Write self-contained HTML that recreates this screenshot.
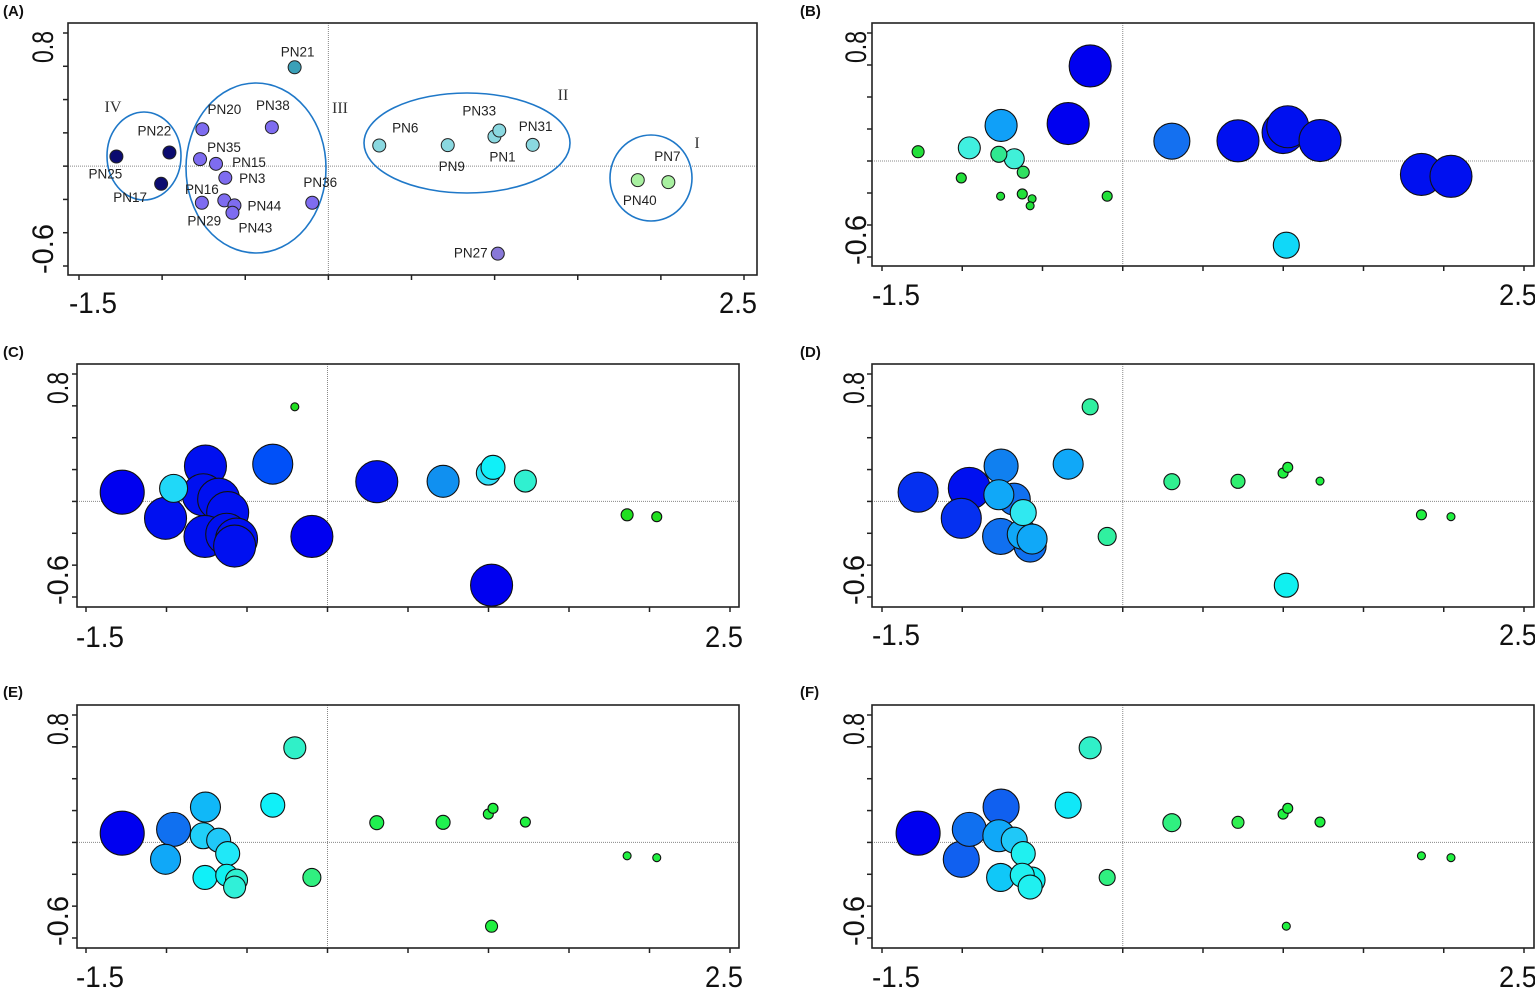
<!DOCTYPE html>
<html><head><meta charset="utf-8"><style>
html,body{margin:0;padding:0;background:#fff;}
svg{display:block;font-family:"Liberation Sans",Arial,sans-serif;}
</style></head><body>
<svg id="fig" width="1535" height="992" viewBox="0 0 1535 992"></svg>
<script>
const sampleNames=["PN25","PN22","PN17","PN20","PN38","PN35","PN15","PN3","PN16","PN29","PN44","PN43","PN36","PN21","PN6","PN9","PN1","PN33","PN31","PN40","PN7","PN27"];
const pc1=[-1.275,-0.956,-1.006,-0.758,-0.340,-0.772,-0.676,-0.620,-0.761,-0.626,-0.565,-0.577,-0.097,-0.203,0.306,0.718,0.999,1.028,1.229,1.861,2.045,1.019];
const pc2=[0.058,0.082,-0.106,0.222,0.234,0.042,0.014,-0.070,-0.220,-0.206,-0.236,-0.280,-0.220,0.594,0.124,0.126,0.178,0.214,0.128,-0.084,-0.096,-0.526];
const groupA=["IV","IV","IV","III","III","III","III","III","III","III","III","III","III","x","II","II","II","II","II","I","I","y"];
const sizeB=[6,11,5,16,21,8,10,6,4,5,4,4,5,21,18,21,21,21,21,21,21,13];
const sizeC=[22,14,21,21,20,21,21,21,21,21,21,21,21,4,21,16,12,12,11,6,5,21];
const sizeD=[20,21,20,17,15,15,16,13,18,15,15,16,9,8,8,7,5,5,4,5,4,12];
const sizeE=[22,17,15,15,12,13,12,12,12,11,11,11,9,11,7,7,5,5,5,4,4,6];
const sizeF=[22,17,18,18,13,16,13,12,14,12,13,12,8,11,9,6,5,5,5,4,4,4];
const colB=["#22e03a","#40f0e0","#22e03a","#10a0f8","#0000f0","#30e890","#40f0d8","#30e060","#22e03a","#22e03a","#22e03a","#22e03a","#22e03a","#0000f0","#1470f0","#0010f0","#0010f0","#0010f0","#0010f0","#0010f0","#0010f0","#10d8f8"];
const colC=["#0000f0","#20d8f8","#0010f0","#0010f0","#0050f8","#0010f0","#0010f0","#0010f0","#0010f0","#0010f0","#0010f0","#0010f0","#0000f0","#20e020","#0010f0","#1090f0","#30e0f8","#10f0f8","#30f0d0","#20e020","#20e020","#0000f0"];
const colD=["#0530f0","#0010f0","#0530f0","#1080f0","#10a8f8","#10a8f8","#1070f0","#30e8f0","#1070f0","#10a8f8","#10a8f8","#1070f0","#30f0a0","#30f0a0","#30f090","#30f070","#20f040","#20f040","#20f040","#20f040","#20f040","#10f0f0"];
const colE=["#0000f0","#1070f0","#10a8f8","#10b8f8","#10f0f8","#20d0f8","#20c8f8","#20e8f8","#10f0f8","#10f0f0","#30f0d0","#30f0d8","#30f080","#30f0c8","#20f050","#20f050","#20f040","#20f040","#20f040","#20f040","#20f040","#20f040"];
const colF=["#0000f0","#1070f0","#1060f0","#1060f0","#10e8f8","#10a8f8","#20c8f8","#20f0f0","#10c8f8","#20f0f0","#10f0f0","#20f0f0","#30f080","#30f0c8","#30f080","#30f050","#20f040","#20f040","#20f040","#20f040","#20f040","#20f040"];
const colA={"IV":"#0b0b70","III":"#7e6cf0","II":"#8ad8e0","I":"#a8f0a0","x":"#3aa0b8","y":"#8878d8"};
const xTicks=[-1.5,-1,-0.5,0,0.5,1,1.5,2,2.5];
const yTicks=[0.8,0.6,0.4,0.2,0,-0.2,-0.4,-0.6];
// label offsets (px) from each point in panel A
const labelDx=[-11,-15,-31,22,1,24,33,27,0,-20,30,23,8,3,26,4,8,-20,3,2,-1,-27];
const labelDy=[17,-22,13,-20,-22,-12,-2,0,-14,20,0,15,-21,-16,-18,21,20,-20,-19,20,-26,-1];

const NS="http://www.w3.org/2000/svg";
const svg=document.getElementById('fig');
function mk(tag,attrs,parent){const e=document.createElementNS(NS,tag);for(const k in attrs)e.setAttribute(k,attrs[k]);(parent||svg).appendChild(e);return e;}

const panels=[
 {id:"A",lx:3,ly:16,x0:79,x1:744,y08:33,y06:266,box:[68,23,757,275],xlb:313,ylx:42},
 {id:"B",lx:800,ly:16,x0:882,x1:1524,y08:33,y06:257,box:[872,23,1534,266],xlb:305,ylx:855,sizes:sizeB,cols:colB},
 {id:"C",lx:3,ly:357,x0:86,x1:730,y08:374,y06:597,box:[77,364,739,607],xlb:647,ylx:57,sizes:sizeC,cols:colC},
 {id:"D",lx:800,ly:357,x0:882,x1:1524,y08:374,y06:597,box:[872,364,1534,607],xlb:645,ylx:853,sizes:sizeD,cols:colD},
 {id:"E",lx:3,ly:697,x0:86,x1:730,y08:715,y06:938,box:[77,705,739,948],xlb:987,ylx:57,sizes:sizeE,cols:colE},
 {id:"F",lx:800,ly:697,x0:882,x1:1524,y08:715,y06:938,box:[872,705,1534,948],xlb:987,ylx:853,sizes:sizeF,cols:colF}
];

panels.forEach(p=>{
 const g=mk('g',{});
 
 
 const sx=v=>p.x0+(v+1.5)/4*(p.x1-p.x0);
 const sy=v=>p.y08+(0.8-v)/1.4*(p.y06-p.y08);
 const [bl,bt,br,bb]=p.box;
 const t=mk('text',{x:p.lx,y:p.ly,'font-size':15,'font-weight':'bold',fill:'#111'},g);t.textContent='('+p.id+')';
 
 
 const zv=mk('line',{x1:sx(0),x2:sx(0),y1:bt,y2:bb,stroke:'#888','stroke-width':1,'stroke-dasharray':'1,1'},g);
 
 
 const zh=mk('line',{x1:bl,x2:br,y1:sy(0),y2:sy(0),stroke:'#888','stroke-width':1,'stroke-dasharray':'1,1'},g);
 
 
 const bx=mk('rect',{x:bl,y:bt,width:br-bl,height:bb-bt,fill:'none',stroke:'#222','stroke-width':1.6},g);
 
 
 xTicks.forEach(v=>{const l=mk('line',{x1:sx(v),x2:sx(v),y1:bb,y2:bb+5,stroke:'#222','stroke-width':1.5},g);
  
  });
 yTicks.forEach(v=>{const l=mk('line',{x1:bl-5,x2:bl,y1:sy(v),y2:sy(v),stroke:'#222','stroke-width':1.5},g);
  
  });
 const xl1=mk('text',{x:sx(-1.5)+14,y:p.xlb,'font-size':30,'text-anchor':'middle',fill:'#111',textLength:48,lengthAdjust:'spacingAndGlyphs'},g);xl1.textContent='-1.5';
 
 
 const xl2=mk('text',{x:sx(2.5)-6,y:p.xlb,'font-size':30,'text-anchor':'middle',fill:'#111',textLength:38,lengthAdjust:'spacingAndGlyphs'},g);xl2.textContent='2.5';
 
 
 const c1=sy(0.8)+14, c2=sy(-0.6)-17;
 const yl1=mk('text',{x:0,y:0,'font-size':30,'text-anchor':'middle',fill:'#111',transform:`translate(${p.ylx+11},${c1}) rotate(-90)`,textLength:32,lengthAdjust:'spacingAndGlyphs'},g);yl1.textContent='0.8';
 
 
 const yl2=mk('text',{x:0,y:0,'font-size':30,'text-anchor':'middle',fill:'#111',transform:`translate(${p.ylx+11},${c2}) rotate(-90)`,textLength:50,lengthAdjust:'spacingAndGlyphs'},g);yl2.textContent='-0.6';
 
 

 if(p.id==="A"){
  const ells=[[144,156,37,44,"IV",113,112],[256,168,70,85,"III",340,113],[467,143,103,50,"II",563,100],[651,178,41,43,"I",697,148]];
  ells.forEach(e=>{const el=mk('ellipse',{cx:e[0],cy:e[1],rx:e[2],ry:e[3],fill:'none',stroke:'#1f78c8','stroke-width':1.6},g);
   
   
   const tt=mk('text',{x:e[5],y:e[6],'font-size':16,'font-family':'"Liberation Serif",serif','text-anchor':'middle',fill:'#333'},g);tt.textContent=e[4];
   
   });
  pc1.forEach((v,i)=>{
   const cx=sx(v), cy=sy(pc2[i]);
   const c=mk('circle',{cx:cx,cy:cy,r:6.5,fill:colA[groupA[i]],stroke:'#222','stroke-width':1},g);
   
   
   const tt=mk('text',{x:cx+labelDx[i],y:cy+labelDy[i]+5,'font-size':13.5,'text-anchor':'middle',fill:'#222'},g);tt.textContent=sampleNames[i];
   
   
  });
 } else {
  const idx=pc1.map((_,i)=>i).sort((a,b)=>p.sizes[b]-p.sizes[a]);
  idx.forEach(i=>{
   const c=mk('circle',{cx:sx(pc1[i]),cy:sy(pc2[i]),r:p.sizes[i],fill:p.cols[i],stroke:'#111','stroke-width':1.1},g);
   
   
  });
 }
});
</script>
</body></html>
